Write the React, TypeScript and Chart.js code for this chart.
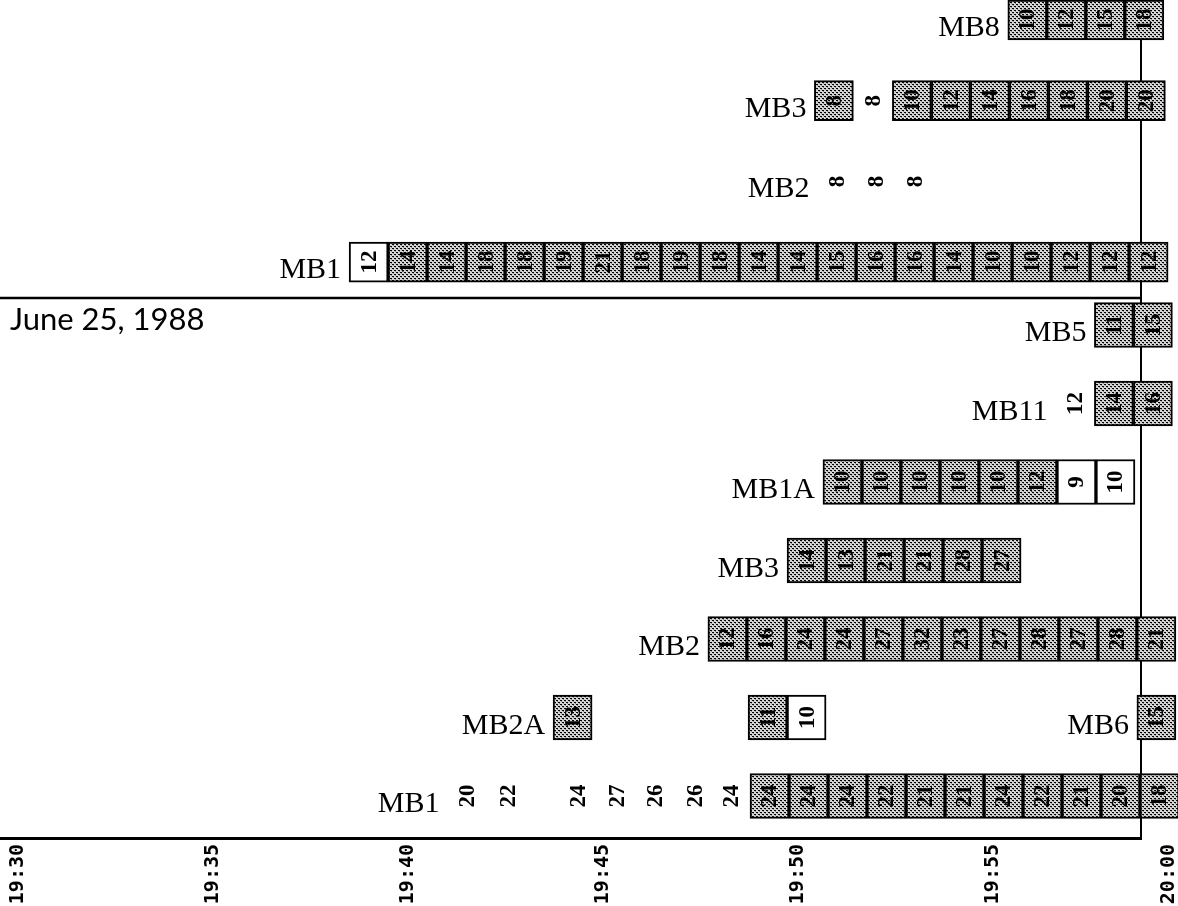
import React, { useEffect, useRef } from 'react';
import { Chart, registerables } from 'chart.js';

Chart.register(...registerables);

// ---------- time axis (minutes after 19:30) ----------
const tickMinutes = [0, 5, 10, 15, 20, 25, 29.5];
const tickLabels = ['19:30', '19:35', '19:40', '19:45', '19:50', '19:55', '20:00'];

const panelTitle = 'June 25, 1988';

// kinds: S = shaded box, O = open box, N = number only, - = no reading
// ---------- upper panel ----------
const topMB8Start = 25.38;
const topMB8Values = [10, 12, 15, 18];
const topMB8Kinds = 'SSSS';

const topMB3Start = 20.42;
const topMB3Values = [8, 8, 10, 12, 14, 16, 18, 20, 20];
const topMB3Kinds = 'SNSSSSSSS';

const topMB2Start = 20.5;
const topMB2Values = [8, 8, 8];
const topMB2Kinds = 'NNN';

const topMB1Start = 8.49;
const topMB1Values = [12, 14, 14, 18, 18, 19, 21, 18, 19, 18, 14, 14, 15, 16, 16, 14, 10, 10, 12, 12, 12];
const topMB1Kinds = 'OSSSSSSSSSSSSSSSSSSSS';

// ---------- lower panel (June 25, 1988) ----------
const mb5Start = 27.6;
const mb5Values = [11, 15];
const mb5Kinds = 'SS';

const mb11Start = 26.6;
const mb11Values = [12, 14, 16];
const mb11Kinds = 'NSS';

const mb1aStart = 20.64;
const mb1aValues = [10, 10, 10, 10, 10, 12, 9, 10];
const mb1aKinds = 'SSSSSSOO';

const mb3Start = 19.72;
const mb3Values = [14, 13, 21, 21, 28, 27];
const mb3Kinds = 'SSSSSS';

const mb2Start = 17.69;
const mb2Values = [12, 16, 24, 24, 27, 32, 23, 27, 28, 27, 28, 21];
const mb2Kinds = 'SSSSSSSSSSSS';

const mb2aStart = 13.72;
const mb2aValues: (number | null)[] = [13, null, null, null, null, 11, 10];
const mb2aKinds = 'S----SO';

const mb6Start = 28.69;
const mb6Values = [15];
const mb6Kinds = 'S';

const mb1LooseTimes = [11.01, 12.06, 13.86, 14.86, 15.83, 16.86, 17.78];
const mb1LooseValues = [20, 22, 24, 27, 26, 26, 24];
const mb1BoxStart = 18.77;
const mb1BoxValues = [24, 24, 24, 22, 21, 21, 24, 22, 21, 20, 18];

// ---------- build series ----------
type Series = {
  label: string;
  panel: 'top' | 'bottom';
  row: number;
  starts: number[];
  values: (number | null)[];
  kinds: string;
};

const everyMinute = (start: number, n: number) => Array.from({ length: n }, (_, i) => start + i);

const series: Series[] = [
  { label: 'MB8', panel: 'top', row: 0, starts: everyMinute(topMB8Start, topMB8Values.length), values: topMB8Values, kinds: topMB8Kinds },
  { label: 'MB3', panel: 'top', row: 1, starts: everyMinute(topMB3Start, topMB3Values.length), values: topMB3Values, kinds: topMB3Kinds },
  { label: 'MB2', panel: 'top', row: 2, starts: everyMinute(topMB2Start, topMB2Values.length), values: topMB2Values, kinds: topMB2Kinds },
  { label: 'MB1', panel: 'top', row: 3, starts: everyMinute(topMB1Start, topMB1Values.length), values: topMB1Values, kinds: topMB1Kinds },
  { label: 'MB5', panel: 'bottom', row: 0, starts: everyMinute(mb5Start, mb5Values.length), values: mb5Values, kinds: mb5Kinds },
  { label: 'MB11', panel: 'bottom', row: 1, starts: everyMinute(mb11Start, mb11Values.length), values: mb11Values, kinds: mb11Kinds },
  { label: 'MB1A', panel: 'bottom', row: 2, starts: everyMinute(mb1aStart, mb1aValues.length), values: mb1aValues, kinds: mb1aKinds },
  { label: 'MB3', panel: 'bottom', row: 3, starts: everyMinute(mb3Start, mb3Values.length), values: mb3Values, kinds: mb3Kinds },
  { label: 'MB2', panel: 'bottom', row: 4, starts: everyMinute(mb2Start, mb2Values.length), values: mb2Values, kinds: mb2Kinds },
  { label: 'MB2A', panel: 'bottom', row: 5, starts: everyMinute(mb2aStart, mb2aValues.length), values: mb2aValues, kinds: mb2aKinds },
  { label: 'MB6', panel: 'bottom', row: 5, starts: everyMinute(mb6Start, mb6Values.length), values: mb6Values, kinds: mb6Kinds },
  {
    label: 'MB1', panel: 'bottom', row: 6,
    starts: [...mb1LooseTimes, ...everyMinute(mb1BoxStart, mb1BoxValues.length)],
    values: [...mb1LooseValues, ...mb1BoxValues],
    kinds: 'N'.repeat(mb1LooseValues.length) + 'S'.repeat(mb1BoxValues.length),
  },
];

const SLOT = 1; // one minute per reading
const BOX_FONT = 'bold 23px "Liberation Serif"';
const LABEL_FONT = '30px "Liberation Serif"';
const TITLE_FONT = '31px Lato';

export default function App() {
  const canvasRef = useRef<HTMLCanvasElement | null>(null);

  useEffect(() => {
    const prevMargin = document.body.style.margin;
    document.body.style.margin = '0';
    const canvas = canvasRef.current!;
    const ctx = canvas.getContext('2d')!;

    // stipple pattern for shaded boxes
    const pc = document.createElement('canvas');
    pc.width = 4;
    pc.height = 4;
    const pg = pc.getContext('2d')!;
    pg.fillStyle = '#d6d6d6';
    pg.fillRect(0, 0, 4, 4);
    pg.fillStyle = '#000000';
    pg.fillRect(0, 0, 2, 1);
    pg.fillRect(2, 2, 2, 1);
    pg.fillStyle = '#8c8c8c';
    pg.fillRect(1, 1, 1, 1);
    pg.fillRect(3, 3, 1, 1);
    const stipple = ctx.createPattern(pc, 'repeat')!;

    const datasets = series.map((s) => {
      const data: any[] = [];
      s.values.forEach((v, i) => {
        const k = s.kinds[i];
        if (v == null || (k !== 'S' && k !== 'O')) return;
        data.push({ x: [s.starts[i], s.starts[i] + SLOT], y: s.row, kind: k });
      });
      return {
        label: s.label,
        data,
        yAxisID: s.panel === 'top' ? 'yTop' : 'yBot',
        backgroundColor: (c: any) => (c.raw && c.raw.kind === 'O' ? '#ffffff' : stipple),
        borderColor: '#000000',
        borderWidth: 2,
        borderSkipped: false,
        barThickness: s.panel === 'top' ? 40 : 45,
        grouped: false,
        clip: false as any,
      };
    });

    const annotate = {
      id: 'annotate',
      beforeDatasetsDraw(chart: any) {
        const c = chart.ctx;
        const area = chart.chartArea;
        const yTop = chart.scales.yTop;
        c.save();
        c.strokeStyle = '#000';
        c.lineWidth = 2.5;
        c.beginPath();
        c.moveTo(area.left, yTop.bottom);
        c.lineTo(area.right, yTop.bottom);
        c.stroke();
        c.lineWidth = 2;
        c.beginPath();
        c.moveTo(area.right, area.top);
        c.lineTo(area.right, area.bottom);
        c.stroke();
        c.restore();
      },
      afterDatasetsDraw(chart: any) {
        const c = chart.ctx;
        const xs = chart.scales.x;
        c.save();
        c.fillStyle = '#000';
        for (const s of series) {
          const ys = chart.scales[s.panel === 'top' ? 'yTop' : 'yBot'];
          const yc = ys.getPixelForValue(s.row);
          s.values.forEach((v, i) => {
            if (v == null) return;
            const cx = xs.getPixelForValue(s.starts[i] + SLOT / 2);
            c.save();
            c.translate(cx, yc);
            c.rotate(-Math.PI / 2);
            c.font = BOX_FONT;
            c.textAlign = 'center';
            c.textBaseline = 'middle';
            c.fillText(String(v), 0, 1);
            c.restore();
          });
          const lx = xs.getPixelForValue(s.starts[0]) - 8;
          c.font = LABEL_FONT;
          c.textAlign = 'right';
          c.textBaseline = 'alphabetic';
          c.fillText(s.label, lx, yc + 16);
        }
        const yBot = chart.scales.yBot;
        c.font = TITLE_FONT;
        c.textAlign = 'left';
        c.textBaseline = 'alphabetic';
        c.fillText(panelTitle, chart.chartArea.left + 10, yBot.getPixelForValue(0) + 5);
        c.restore();
      },
    };

    const hiddenY = (min: number, max: number, weight: number) => ({
      type: 'linear' as const,
      position: 'left' as const,
      stack: 'panels',
      stackWeight: weight,
      reverse: true,
      offset: false,
      bounds: 'data' as const,
      grace: 0,
      min,
      max,
      display: true,
      ticks: { display: false },
      grid: { display: false, drawTicks: false, offset: false },
      border: { display: false },
      afterFit(scale: any) {
        scale.width = 0;
      },
    });

    const chart = new Chart(ctx, {
      type: 'bar',
      data: { datasets: datasets as any },
      plugins: [annotate],
      options: {
        indexAxis: 'y',
        animation: false,
        responsive: false,
        devicePixelRatio: 1,
        events: [],
        layout: { padding: { left: 0, top: 0, right: 37, bottom: 0 } },
        plugins: { legend: { display: false }, tooltip: { enabled: false } },
        scales: {
          x: {
            type: 'linear',
            position: 'bottom',
            min: -18 / 39,
            max: (1141 - 18) / 39,
            afterBuildTicks(scale: any) {
              scale.ticks = tickMinutes.map((v) => ({ value: v }));
            },
            afterFit(scale: any) {
              scale.height = 68;
              scale.paddingLeft = 0;
              scale.paddingRight = 0;
            },
            ticks: {
              autoSkip: false,
              minRotation: 90,
              maxRotation: 90,
              padding: 6,
              color: '#000',
              font: { family: '"DejaVu Sans Mono"', size: 20, weight: 'bold' },
              callback: (_v: any, i: number) => tickLabels[i],
            },
            grid: { display: false, drawTicks: false },
            border: { display: true, color: '#000', width: 3 },
          },
          // left-positioned stacked scales are laid out in reverse order
          yBot: hiddenY(-27 / 78.5, (540 - 27) / 78.5, 540),
          yTop: hiddenY(-20 / 80.7, (298 - 20) / 80.7, 298),
        } as any,
      },
    });

    return () => {
      chart.destroy();
      document.body.style.margin = prevMargin;
    };
  }, []);

  return (
    <div style={{ width: 1178, height: 906, position: 'relative' }}>
      <canvas ref={canvasRef} width={1178} height={906} style={{ display: 'block' }} />
    </div>
  );
}
